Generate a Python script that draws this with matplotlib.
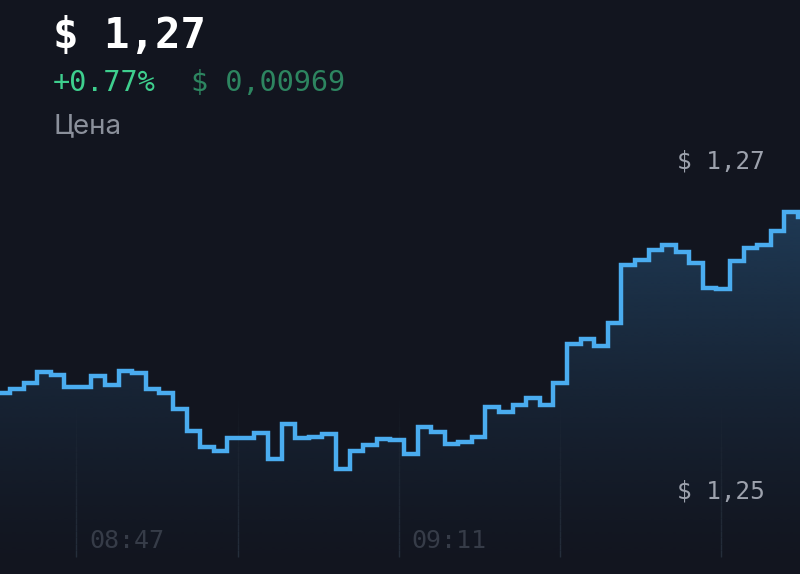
import numpy as np
import matplotlib
matplotlib.use("Agg")
import matplotlib.pyplot as plt
from matplotlib.colors import to_rgb

# ---- data (1-minute closes) ----
price = [1.25594, 1.25618, 1.25655, 1.25721, 1.25703, 1.25630, 1.25630, 1.25697,
         1.25642, 1.25727, 1.25715, 1.25618, 1.25594, 1.25497, 1.25364, 1.25267,
         1.25242, 1.25321, 1.25321, 1.25352, 1.25194, 1.25406, 1.25321, 1.25327,
         1.25345, 1.25133, 1.25242, 1.25279, 1.25315, 1.25309, 1.25224, 1.25388,
         1.25358, 1.25285, 1.25297, 1.25327, 1.25509, 1.25479, 1.25521, 1.25564,
         1.25521, 1.25655, 1.25891, 1.25921, 1.25879, 1.26018, 1.26370, 1.26400,
         1.26461, 1.26491, 1.26448, 1.26382, 1.26230, 1.26224, 1.26394, 1.26473,
         1.26491, 1.26576, 1.26691, 1.26661]
time_labels = ["08:47", "", "09:11", "", ""]
axis_prices = [1.27, 1.25]
axis_price_labels = ["$ 1,27", "$ 1,25"]

BG = "#12151f"
LINE = "#4aacef"
W, H = 800, 574

fig = plt.figure(figsize=(W / 100, H / 100), dpi=100, facecolor=BG)
ax = fig.add_axes([0, 0, 1, 1])
ax.set_facecolor(BG)
ax.axis("off")

# pixel rows of the two price labels -> y limits
px_hi, px_lo = 161, 491
per_px = (axis_prices[0] - axis_prices[1]) / (px_lo - px_hi)
ylo = axis_prices[1] - (H - px_lo) * per_px
yhi = axis_prices[0] + px_hi * per_px
ax.set_ylim(ylo, yhi)
ax.set_xlim(-0.73, 58.15)

edges = np.arange(-1, len(price))
xs = np.repeat(edges, 2)[1:-1]
ys = np.repeat(price, 2)

# gradient fill under the line, clipped to the step polygon
top = max(price)
grad = np.linspace(1, 0, 256) ** 1.3
c = to_rgb("#21405e")
img = np.zeros((256, 1, 4))
img[..., 0], img[..., 1], img[..., 2] = c
img[:, 0, 3] = 0.85 * grad
im = ax.imshow(img, extent=(-1, len(price), ylo, top), aspect="auto",
               origin="upper", zorder=1, interpolation="bilinear")
clip = plt.Polygon(np.column_stack([np.r_[xs, xs[-1], xs[0]],
                                    np.r_[ys, ylo, ylo]]), transform=ax.transData)
im.set_clip_path(clip)

# faint vertical time grid, fading upward
grid_pos = 4.9 + 11.85 * np.arange(len(time_labels))
g_bot, g_top = ylo + (H - 557) * per_px, ylo + (H - 400) * per_px
segs = np.linspace(g_top, g_bot, 25)
for gx in grid_pos:
    for k in range(len(segs) - 1):
        ax.plot([gx, gx], [segs[k], segs[k + 1]], color="#26303d",
                alpha=(k + 1) / len(segs), lw=1, zorder=2, solid_capstyle="butt")

ax.step(xs, ys, color=LINE, lw=3.2, zorder=4, solid_joinstyle="miter")

mono = "DejaVu Sans Mono"
for gx, lab in zip(grid_pos, time_labels):
    if lab:
        ax.annotate(lab, xy=(gx, 1 - 541 / H), xycoords=ax.get_xaxis_transform(),
                    xytext=(9, 0), textcoords="offset points", va="center",
                    ha="left", fontsize=18, color="#363c48", family=mono, zorder=5)

for p, lab in zip(axis_prices, axis_price_labels):
    fig.text(765 / W, 1 - (px_hi if p == axis_prices[0] else px_lo) / H, lab,
             ha="right", va="center", fontsize=17.5, color="#9da2ad", family=mono)

# header
fig.text(53 / W, 1 - 36 / H, "$ 1,27", fontsize=30.5, weight="bold", color="white",
         family=mono, va="center", ha="left")
fig.text(53 / W, 1 - 83 / H, "+0.77%", fontsize=20.5, color="#3ecf8e",
         family=mono, va="center", ha="left")
fig.text(191 / W, 1 - 83 / H, "$ 0,00969", fontsize=20.5, color="#2d8560",
         family=mono, va="center", ha="left")
fig.text(53 / W, 1 - 126 / H, "Цена", fontsize=20, color="#8b909b",
         family="Inter", va="center", ha="left")

fig.savefig("out.png", dpi=100, facecolor=BG)
